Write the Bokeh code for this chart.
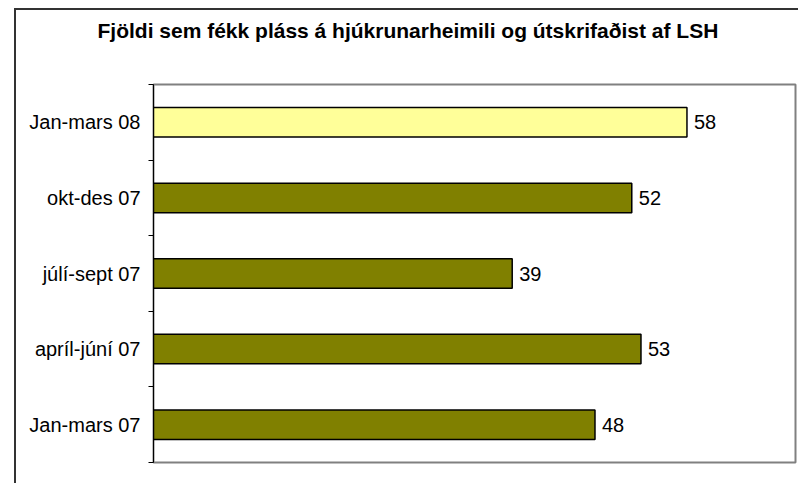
from bokeh.plotting import figure
from bokeh.models import Range1d, FixedTicker, ColumnDataSource, Title
from bokeh.core.properties import value
from bokeh.embed import file_html
from bokeh.resources import INLINE

title_text = "Fjöldi  sem fékk pláss á hjúkrunarheimili og útskrifaðist af LSH"
categories = ["Jan-mars 07", "apríl-júní 07", "júlí-sept 07", "okt-des 07", "Jan-mars 08"]
values = [48, 53, 39, 52, 58]
colors = ["#808000", "#808000", "#808000", "#808000", "#FFFF99"]

centers = [i + 0.5 for i in range(len(categories))]
bounds = [float(i) for i in range(len(categories) + 1)]

src = ColumnDataSource(dict(y=centers, v=values, c=colors,
                            lab=[str(v) for v in values]))

p = figure(width=784, height=475, output_backend="svg", toolbar_location=None,
           x_range=Range1d(0, 69.8), y_range=Range1d(0, len(categories)),
           min_border_left=137, min_border_top=74, min_border_right=5,
           min_border_bottom=23, x_axis_location=None)
p.margin = (8, 0, 0, 14)
p.styles = {"border-left": "2px solid #333333", "border-top": "2px solid #333333"}

# spacer between title and plot frame
p.add_layout(Title(text=" ", text_font_size="10px", standoff=28,
                   text_color="white"), "above")

p.title.text = title_text
p.title.text_font = "Liberation Sans"
p.title.text_font_size = "21px"
p.title.text_font_style = "bold"
p.title.text_color = "black"
p.title.align = "left"
p.title.offset = -56
p.title.standoff = 4

p.xgrid.visible = False
p.ygrid.visible = False
p.outline_line_color = "#808080"
p.outline_line_width = 2
p.background_fill_color = "white"
p.border_fill_color = "white"

p.hbar(y="y", right="v", left=0, height=0.39, fill_color="c",
       line_color="black", line_width=1.5, source=src)
p.text(x="v", y="y", text="lab", x_offset=7, text_baseline="middle",
       text_align="left", text_font=value("Liberation Sans"),
       text_font_size="20px", text_color="black", source=src)

ax = p.yaxis[0]
ax.ticker = FixedTicker(ticks=centers, minor_ticks=bounds)
ax.major_label_overrides = {c: lab for c, lab in zip(centers, categories)}
ax.axis_line_color = "black"
ax.axis_line_width = 1
ax.major_tick_out = 0
ax.major_tick_in = 0
ax.minor_tick_out = 5
ax.minor_tick_in = 0
ax.minor_tick_line_color = "black"
ax.major_label_standoff = 8
ax.major_label_text_font = "Liberation Sans"
ax.major_label_text_font_size = "20px"
ax.major_label_text_color = "black"

open("out.html", "w").write(file_html(p, INLINE))
